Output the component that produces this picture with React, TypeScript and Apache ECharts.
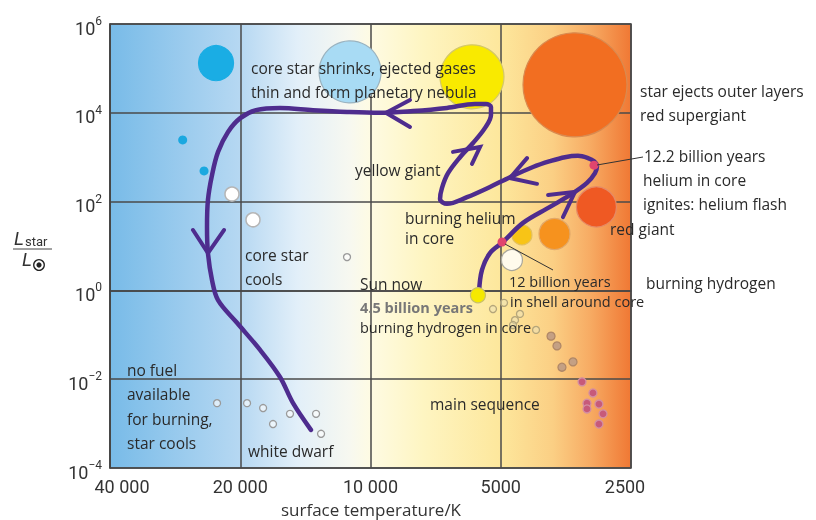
import React, { useEffect, useRef } from 'react';
import * as echarts from 'echarts';

// ---- axis definitions ----
const T_REF = 40000; // K at left edge of temperature axis
const X_TICK_LABELS = ['40 000', '20 000', '10 000', '5000', '2500'];
const LOG_L_MIN = -4;
const LOG_L_MAX = 6;
const LOG_L_STEP = 2;

// ---- evolutionary track of the Sun (temperature K, log10 L/Lsun) ----
const trackTemp = [5614, 5525, 5295, 4941, 4441, 3847, 3404, 3160, 3028, 2996, 3044, 3143, 3315, 3553, 3847, 4211, 4760, 5295, 5983, 6657, 6907, 6835, 6620, 6211, 5795, 5436, 5267, 5267, 5408, 5735, 6657, 7976, 9508, 11330, 13580, 16190, 18390, 20000, 21345, 22510, 23240, 23750, 23870, 23750, 23240, 22510, 20350, 18000, 16190, 15100, 13730];
const trackLogL = [-0.04, 0.46, 0.84, 1.09, 1.52, 1.88, 2.19, 2.42, 2.64, 2.80, 2.91, 2.98, 3.03, 3.00, 2.91, 2.78, 2.55, 2.33, 2.10, 1.95, 2.06, 2.31, 2.64, 3.00, 3.32, 3.66, 3.95, 4.13, 4.20, 4.20, 4.11, 4.04, 4.00, 4.02, 4.06, 4.11, 4.06, 3.88, 3.57, 3.12, 2.60, 2.04, 1.43, 0.84, 0.23, -0.22, -0.73, -1.34, -1.95, -2.54, -3.14];

// arrow heads on the track: [arm, tip, arm]
const arrowTemp = [
  [8105, 9208, 8105],
  [25720, 23750, 21810],
  [6447, 5583, 5827],
  [4348, 4762, 4124],
  [3887, 3368, 3591],
];
const arrowLogL = [
  [4.29, 4.0, 3.68],
  [1.36, 0.84, 1.36],
  [3.12, 3.23, 2.85],
  [2.98, 2.53, 2.40],
  [2.15, 2.22, 1.65],
];

// big stars (giants, supergiants, nebula)
const giantTemp = [22750, 11150, 5827, 3368, 3005, 3756, 4466, 4711];
const giantLogL = [5.12, 4.92, 4.81, 4.63, 1.88, 1.27, 1.25, 0.685];

// Sun now
const sunTemp = [5645];
const sunLogL = [-0.11];

// age markers (12 billion years, 12.2 billion years)
const markerTemp = [4966, 3044];
const markerLogL = [1.09, 2.82];

// hot blue stars
const blueTemp = [27170, 24250];
const blueLogL = [3.39, 2.69];

// white stars (core star cooling)
const whiteTemp = [20900, 18690];
const whiteLogL = [2.17, 1.59];

// small rings (white dwarfs and one faint star)
const ringTemp = [11330, 22630, 19290, 17710, 16800, 15350, 13360, 13010];
const ringLogL = [0.75, -2.54, -2.54, -2.65, -3.01, -2.78, -2.78, -3.23];

// main sequence
const msTemp = [5211, 4914, 4514, 4635, 4684, 4144, 3826, 3707, 3610, 3404, 3244, 3061, 3160, 2965, 3160, 2901, 2965];
const msLogL = [-0.42, -0.28, -0.53, -0.67, -0.78, -0.89, -1.03, -1.25, -1.73, -1.61, -2.06, -2.31, -2.54, -2.56, -2.67, -2.78, -3.01];

const toX = (t: number) => Math.log2(T_REF / t);

export default function App() {
  const ref = useRef<HTMLDivElement>(null);

  useEffect(() => {
    const chart = echarts.init(ref.current!, null, { renderer: 'svg' });
    const PURPLE = '#4e2c8e';
    const FONT = 'Open Sans';
    const AXFONT = 'Roboto';
    const TEXT = '#2a2a2a';

    const giantStyle = [
      { size: 35, color: '#1aade4', border: '#1aade4' },
      { size: 62, color: '#a8dbf4', border: '#9ab3c0' },
      { size: 64, color: '#f9ea00', border: '#d4c868' },
      { size: 104, color: '#f26e21', border: '#d98a50' },
      { size: 40, color: '#ef5923', border: '#e58a66' },
      { size: 31, color: '#f6921e', border: '#e2a868' },
      { size: 20, color: '#f8c416', border: '#e3c060' },
      { size: 21, color: '#fffbec', border: '#a9a79c' },
    ];
    const msStyle = (i: number) =>
      i < 6
        ? { color: 'rgba(235,225,185,0.5)', border: '#b4a57a', size: 7 }
        : i < 10
        ? { color: '#c4a084', border: '#b08868', size: 8 }
        : { color: '#c75a7a', border: '#d48ea2', size: 8 };

    const giantData = giantTemp.map((t, i) => ({
      value: [toX(t), giantLogL[i]],
      symbolSize: giantStyle[i].size,
      itemStyle: { color: giantStyle[i].color, borderColor: giantStyle[i].border, borderWidth: 1.2, opacity: 1 },
    }));
    const msData = msTemp.map((t, i) => {
      const s = msStyle(i);
      return {
        value: [toX(t), msLogL[i]],
        symbolSize: s.size,
        itemStyle: { color: s.color, borderColor: s.border, borderWidth: 1.3, opacity: 1 },
      };
    });
    const pairs = (ts: number[], ls: number[]) => ts.map((t, i) => [toX(t), ls[i]]);

    const arrowSeries = arrowTemp.map((ts, k) => ({
      type: 'line',
      data: pairs(ts, arrowLogL[k]),
      symbol: 'none',
      z: 3,
      lineStyle: { color: PURPLE, width: 4, cap: 'round', join: 'miter' },
      silent: true,
    }));

    const gradient = new echarts.graphic.LinearGradient(0, 0, 1, 0, [
      { offset: 0, color: '#78bbe8' },
      { offset: 0.25, color: '#b6d8f2' },
      { offset: 0.36, color: '#e2eff9' },
      { offset: 0.46, color: '#f7f8f0' },
      { offset: 0.5, color: '#fefbe3' },
      { offset: 0.6, color: '#fef5c2' },
      { offset: 0.75, color: '#fde79c' },
      { offset: 0.85, color: '#fbcf84' },
      { offset: 0.92, color: '#f7ac64' },
      { offset: 1, color: '#f07834' },
    ]);

    const small = { fontSize: 14.5 };
    const labels: [string, number, number, any?][] = [
      ['core star shrinks, ejected gases', 251, 68],
      ['thin and form planetary nebula', 251, 92],
      ['star ejects outer layers', 640, 91],
      ['red supergiant', 640, 115],
      ['12.2 billion years', 644, 156],
      ['helium in core', 643, 180],
      ['ignites: helium flash', 643, 204],
      ['red giant', 610, 229],
      ['yellow giant', 355, 170],
      ['burning helium', 405, 218],
      ['in core', 405, 238],
      ['core star', 245, 255],
      ['cools', 245, 279],
      ['Sun now', 360, 284],
      ['4.5 billion years', 360, 307, { ...small, fill: '#777', fontWeight: 'bold' }],
      ['burning hydrogen in core', 360, 327, small],
      ['12 billion years', 509, 281, small],
      ['in shell around core', 510, 301, small],
      ['burning hydrogen', 646, 283],
      ['main sequence', 430, 404],
      ['no fuel', 127, 370],
      ['available', 127, 394],
      ['for burning,', 127, 419],
      ['star cools', 127, 443],
      ['white dwarf', 248, 451],
    ];

    const graphics: any[] = labels.map(([text, x, y, extra]) => ({
      type: 'text',
      x,
      y,
      z: 100,
      silent: true,
      style: {
        text,
        fontFamily: FONT,
        fontSize: 15.5,
        lineHeight: 16,
        fill: TEXT,
        verticalAlign: 'middle',
        ...(extra || {}),
      },
    }));
    graphics.push(
      { type: 'line', z: 100, silent: true, shape: { x1: 597, y1: 165, x2: 643, y2: 157 }, style: { stroke: '#333', lineWidth: 1 } },
      { type: 'line', z: 100, silent: true, shape: { x1: 505, y1: 244, x2: 553, y2: 270 }, style: { stroke: '#333', lineWidth: 1 } },
      {
        type: 'text', x: 371, y: 509, z: 100, silent: true,
        style: { text: 'surface temperature/K', fontFamily: FONT, fontSize: 17, fill: '#333', align: 'center', verticalAlign: 'middle' },
      },
      {
        type: 'text', x: 14, y: 238, z: 100, silent: true,
        style: {
          text: '{l|L}{s|star}',
          verticalAlign: 'middle',
          rich: {
            l: { fontFamily: AXFONT, fontSize: 19, fontStyle: 'italic', fill: '#333', color: '#333' },
            s: { fontFamily: AXFONT, fontSize: 13, fill: '#333', color: '#333', padding: [6, 0, 0, 1] },
          },
        },
      },
      { type: 'line', z: 100, silent: true, shape: { x1: 13, y1: 249, x2: 52, y2: 249 }, style: { stroke: '#444', lineWidth: 1 } },
      {
        type: 'text', x: 22, y: 259, z: 100, silent: true,
        style: { text: 'L', fontFamily: AXFONT, fontSize: 19, fontStyle: 'italic', fill: '#333', verticalAlign: 'middle' },
      },
      { type: 'circle', z: 100, silent: true, shape: { cx: 39, cy: 265, r: 5.3 }, style: { fill: 'none', stroke: '#222', lineWidth: 1.3 } },
      { type: 'circle', z: 100, silent: true, shape: { cx: 39, cy: 265, r: 2.6 }, style: { fill: '#222' } }
    );

    const option: any = {
      animation: false,
      grid: {
        left: 110,
        right: 185,
        top: 24,
        bottom: 52,
        show: true,
        backgroundColor: gradient,
        borderColor: '#444',
        borderWidth: 1.5,
      },
      xAxis: {
        type: 'value',
        min: 0,
        max: X_TICK_LABELS.length - 1,
        interval: 1,
        axisLine: { show: true, lineStyle: { color: '#444', width: 1.5 } },
        axisTick: { show: false },
        splitLine: { show: true, lineStyle: { color: '#4a4a4a', width: 1.5 } },
        axisLabel: {
          margin: 9,
          fontFamily: AXFONT,
          fontSize: 18,
          color: '#333',
          formatter: (v: number) => {
            const i = Math.round(v);
            if (i === 0) return '{f|' + X_TICK_LABELS[i] + '}';
            if (i === X_TICK_LABELS.length - 1) return '{r|' + X_TICK_LABELS[i] + '}';
            return X_TICK_LABELS[i];
          },
          rich: {
            f: { fontFamily: AXFONT, fontSize: 18, color: '#333', padding: [0, 0, 0, 24] },
            r: { fontFamily: AXFONT, fontSize: 18, color: '#333', padding: [0, 12, 0, 0] },
          },
        },
      },
      yAxis: {
        type: 'value',
        min: LOG_L_MIN,
        max: LOG_L_MAX,
        interval: LOG_L_STEP,
        axisLine: { show: true, lineStyle: { color: '#444', width: 1.5 } },
        axisTick: { show: false },
        splitLine: { show: true, lineStyle: { color: '#4a4a4a', width: 1.5 } },
        axisLabel: {
          margin: 8,
          formatter: (v: number) => '{b|10}{s|' + (v < 0 ? '\u2212' + Math.abs(v) : String(v)) + '}',
          rich: {
            b: { fontFamily: AXFONT, fontSize: 18, color: '#333', padding: [8, 0, 0, 0] },
            s: { fontFamily: AXFONT, fontSize: 12, color: '#333', padding: [0, 0, 6, 0] },
          },
        },
      },
      graphic: graphics,
      series: [
        {
          type: 'scatter',
          data: giantData,
          z: 2,
          silent: true,
          itemStyle: { opacity: 1 },
        },
        {
          type: 'scatter',
          data: pairs(blueTemp, blueLogL),
          symbolSize: 9,
          itemStyle: { color: '#1aa8e0', opacity: 1 },
          z: 2,
          silent: true,
        },
        {
          type: 'scatter',
          data: pairs(whiteTemp, whiteLogL),
          symbolSize: 14,
          itemStyle: { color: '#ffffff', borderColor: '#b5b5b5', borderWidth: 1.5, opacity: 1 },
          z: 2,
          silent: true,
        },
        {
          type: 'scatter',
          data: pairs(ringTemp, ringLogL),
          symbolSize: 7,
          itemStyle: { color: 'rgba(255,255,255,0.6)', borderColor: '#9a9a9a', borderWidth: 1.3, opacity: 1 },
          z: 2,
          silent: true,
        },
        {
          type: 'scatter',
          data: msData,
          z: 2,
          silent: true,
          itemStyle: { opacity: 1 },
        },
        {
          type: 'line',
          data: pairs(trackTemp, trackLogL),
          symbol: 'none',
          smooth: 0.35,
          z: 3,
          silent: true,
          lineStyle: { color: PURPLE, width: 4.5, cap: 'round', join: 'round' },
        },
        ...arrowSeries,
        {
          type: 'scatter',
          data: pairs(sunTemp, sunLogL),
          symbolSize: 15,
          itemStyle: { color: '#f5e900', borderColor: '#c9c06a', borderWidth: 1.2, opacity: 1 },
          z: 4,
          silent: true,
        },
        {
          type: 'scatter',
          data: pairs(markerTemp, markerLogL),
          symbolSize: 9,
          itemStyle: { color: '#e0456e', opacity: 1 },
          z: 4,
          silent: true,
        },
      ],
    };

    chart.setOption(option);
    return () => chart.dispose();
  }, []);

  return <div ref={ref} style={{ position: 'fixed', left: 0, top: 0, width: 816, height: 520 }} />;
}
